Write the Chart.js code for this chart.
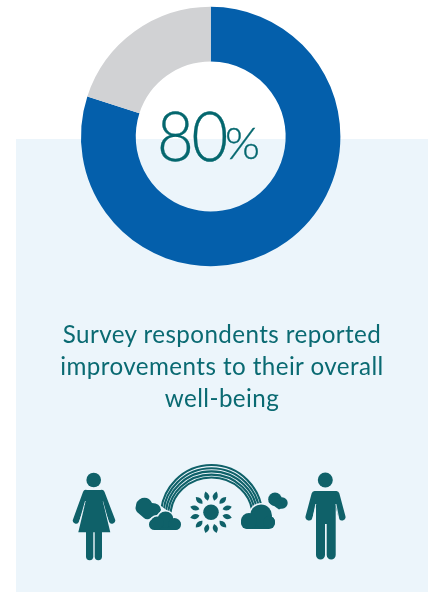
<!DOCTYPE html>
<html>
<head>
<meta charset="utf-8">
<script src="https://cdn.jsdelivr.net/npm/chart.js@4"></script>
<style>
  html, body { margin: 0; padding: 0; background: #fff; }
  #stage { position: relative; width: 430px; height: 592px; overflow: hidden; }
  #panel { position: absolute; left: 16px; top: 139px; width: 412px; height: 453px; background: #ecf5fb; }
  #ring { position: absolute; left: 0; top: 0; }
  .big { position: absolute; font-family: Lato, sans-serif; font-weight: 300; color: #04676e; white-space: nowrap; transform-origin: 0 0; -webkit-text-stroke: 0.35px #04676e; }
  #digits { left: 157px; top: 94px; font-size: 69px; line-height: 82px; letter-spacing: -2.5px; transform: scaleX(0.92); }
  #pct { left: 225px; top: 115px; font-size: 44px; line-height: 54px; transform: scaleX(1.02); }
  #caption { position: absolute; left: 27px; width: 390px; top: 318px; text-align: center; font: 400 24.2px/32px Lato, sans-serif; letter-spacing: 0.42px; color: #0a6a72; }
  #icons { position: absolute; left: 0; top: 0; }
</style>
</head>
<body>
<div id="stage">
  <div id="panel"></div>
  <canvas id="ring" width="430" height="592"></canvas>
  <div id="digits" class="big">80</div>
  <div id="pct" class="big">%</div>
  <div id="caption">Survey respondents reported<br>improvements to their overall<br>well-being</div>
  <svg id="icons" width="430" height="592" fill="#0f6169">
    <defs>
      <clipPath id="bowClip"><path d="M157 503 L172 514 H250 L266 503 V460 H157 Z"/></clipPath>
      <g id="frontLeft">
        <rect x="149" y="519" width="32" height="11" rx="5.500"/>
        <circle cx="165.500" cy="519.500" r="8"/>
        <circle cx="157" cy="523" r="6.500"/>
        <circle cx="174.500" cy="524" r="6"/>
      </g>
      <g id="frontRight">
        <rect x="241" y="516" width="34" height="13" rx="6"/>
        <circle cx="261" cy="515.500" r="11"/>
        <circle cx="249" cy="521" r="8"/>
        <circle cx="269" cy="522" r="6"/>
      </g>
    </defs>

    <!-- woman -->
    <circle cx="93.700" cy="480" r="7.300"/>
    <g stroke="#0f6169" stroke-width="6.400" stroke-linecap="round">
      <line x1="86" y1="493" x2="76" y2="520.500"/>
      <line x1="101.500" y1="493" x2="112" y2="520.500"/>
    </g>
    <g stroke="#ecf5fb" stroke-width="1">
      <line x1="85.500" y1="501" x2="78.500" y2="526"/>
      <line x1="102.500" y1="501" x2="109.500" y2="526"/>
    </g>
    <path d="M86 490 H102 L102.500 500 L110.300 532.300 H78.300 L86 500 Z"/>
    <path d="M86 530 H93.300 V556.500 A3.650 3.650 0 0 1 86 556.500 Z"/>
    <path d="M94.700 530 H102 V556.500 A3.650 3.650 0 0 1 94.700 556.500 Z"/>

    <!-- man -->
    <circle cx="325.300" cy="480" r="7.500"/>
    <g stroke="#0f6169" stroke-width="7" stroke-linecap="round">
      <line x1="315" y1="494.500" x2="309" y2="517"/>
      <line x1="336" y1="494.500" x2="342" y2="517"/>
    </g>
    <path d="M316 491 H335.700 V555 A4.500 4.500 0 0 1 326.700 555 V524 H325 V555 A4.500 4.500 0 0 1 316 555 Z"/>
    <g stroke="#ecf5fb" stroke-width="0.900">
      <line x1="315.800" y1="504" x2="312.300" y2="522"/>
      <line x1="335.900" y1="504" x2="339.400" y2="522"/>
    </g>

    <!-- rainbow bands -->
    <g fill="none" stroke="#0f6169" stroke-width="2.100" clip-path="url(#bowClip)">
      <ellipse cx="211.500" cy="516" rx="50.700" ry="51"/>
      <ellipse cx="211.500" cy="516" rx="48.200" ry="47.800"/>
      <ellipse cx="211.500" cy="516" rx="45.800" ry="44.600"/>
      <ellipse cx="211.500" cy="516" rx="43.400" ry="41.400"/>
      <ellipse cx="211.500" cy="516" rx="41" ry="38.500"/>
    </g>

    <!-- sun -->
    <circle cx="211" cy="512.300" r="7.800"/>
    <g id="rays"></g>

    <!-- clouds behind -->
    <path d="M135.500 508 Q136 500 142 498 Q149 496.500 152 503 Q160 503 161 510 Q160 513 157 515 L149 519 Q146 520 144 518 L137 512 Q135.500 510 135.500 508 Z"/>
    <circle cx="275" cy="499.300" r="6.800"/>
    <circle cx="282" cy="503" r="5.700"/>
    <path d="M268.500 502 L279 509.500 L284 507 L275 494 Z"/>

    <!-- clouds in front, each with a pale halo -->
    <use href="#frontLeft" stroke="#ecf5fb" stroke-width="3"/>
    <use href="#frontLeft"/>
    <use href="#frontRight" stroke="#ecf5fb" stroke-width="3"/>
    <use href="#frontRight"/>
  </svg>
</div>
<script>
const categories = ["Reported improvements", "Did not report improvements"];
const shares = [80, 20];
const sliceColors = ["#045fab", "#d1d2d4"];

new Chart(document.getElementById("ring"), {
  type: "doughnut",
  data: {
    labels: categories,
    datasets: [{ data: shares, backgroundColor: sliceColors, borderWidth: 0 }]
  },
  options: {
    responsive: false,
    animation: false,
    cutout: "57.8%",
    layout: { padding: { left: 81, top: 6.6, right: 89.6, bottom: 325.6 } },
    plugins: { legend: { display: false }, tooltip: { enabled: false } }
  }
});

// Sun rays are twelve small leaves around the disc.
const rays = document.getElementById("rays");
for (let i = 0; i < 12; i++) {
  const leaf = document.createElementNS("http://www.w3.org/2000/svg", "path");
  leaf.setAttribute("d", "M0 -12 Q5 -16.500 0 -21.500 Q-5 -16.500 0 -12 Z");
  leaf.setAttribute("transform", `translate(211 512.3) rotate(${15 + i * 30})`);
  rays.appendChild(leaf);
}
</script>
</body>
</html>
